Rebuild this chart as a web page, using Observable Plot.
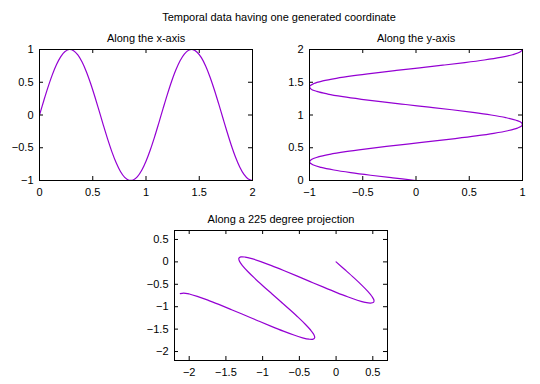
<!DOCTYPE html>
<html>
<head>
<meta charset="utf-8">
<script src="https://cdn.jsdelivr.net/npm/d3@7"></script>
<script src="https://cdn.jsdelivr.net/npm/@observablehq/plot@0.6"></script>
<style>
  html, body { margin: 0; padding: 0; background: white; }
  #chart { position: relative; width: 540px; height: 384px; }
  #chart svg { position: absolute; left: 0; top: 0; }
</style>
</head>
<body>
<div id="chart"></div>
<script>
// Time coordinate
const times = [0.00,0.04,0.08,0.12,0.16,0.20,0.24,0.28,0.32,0.36,0.40,0.44,0.48,0.52,0.56,0.60,0.64,0.68,0.72,0.76,0.80,0.84,0.88,0.92,0.96,1.00,1.04,1.08,1.12,1.16,1.20,1.24,1.28,1.32,1.36,1.40,1.44,1.48,1.52,1.56,1.60,1.64,1.68,1.72,1.76,1.80,1.84,1.88,1.92,1.96,2.00];
// Generated coordinate
const values = [0.000,0.218,0.426,0.613,0.771,0.891,0.969,1.000,0.982,0.918,0.809,0.661,0.481,0.278,0.062,-0.158,-0.369,-0.563,-0.730,-0.862,-0.952,-0.996,-0.992,-0.940,-0.843,-0.705,-0.534,-0.337,-0.123,0.097,0.312,0.512,0.687,0.829,0.931,0.988,0.998,0.959,0.875,0.748,0.585,0.394,0.184,-0.035,-0.252,-0.458,-0.641,-0.793,-0.907,-0.977,-1.000];

const mainTitle = "Temporal data having one generated coordinate";
const panelTitles = ["Along the x-axis", "Along the y-axis", "Along a 225 degree projection"];
const panelAngles = [0, 90, 225];

const xTicks = [[0, 0.5, 1, 1.5, 2], [-1, -0.5, 0, 0.5, 1], [-2, -1.5, -1, -0.5, 0, 0.5]];
const yTicks = [[-1, -0.5, 0, 0.5, 1], [0, 0.5, 1, 1.5, 2], [-2, -1.5, -1, -0.5, 0, 0.5]];
const xDomains = [[0, 2], [-1, 1], [-2.2, 0.7]];
const yDomains = [[-1, 1], [0, 2], [-2.2, 0.7]];

// frame placement (pixels) : left, right, top, bottom
const frames = [[39, 252, 49, 180], [309, 522, 49, 180], [174, 387, 230, 360]];

const W = 540, H = 384;
const FONT = "'Liberation Sans', Arial, sans-serif";
const color = "#9400d3";
const fmt = d => String(d).replace("-", "\u2212");

const chart = document.getElementById("chart");

panelAngles.forEach((ang, i) => {
  const a = ang * Math.PI / 180;
  const c = Math.cos(a), s = Math.sin(a);
  const data = times.map((t, k) => ({
    x: t * c - values[k] * s,
    y: t * s + values[k] * c
  }));
  const [l, r, tp, b] = frames[i];
  const fh = b - tp, fw = r - l;
  const svg = Plot.plot({
    width: W, height: H,
    marginLeft: l, marginRight: W - r, marginTop: tp, marginBottom: H - b,
    style: {background: "transparent", fontFamily: FONT, fontSize: "11px", color: "black"},
    x: {domain: xDomains[i]},
    y: {domain: yDomains[i]},
    marks: [
      Plot.line(data, {x: "x", y: "y", stroke: color, strokeWidth: 1.2, curve: "catmull-rom"}),
      // inward ticks on all four sides
      Plot.ruleX(xTicks[i], {x: d => d, insetTop: fh - 4, stroke: "black"}),
      Plot.ruleX(xTicks[i], {x: d => d, insetBottom: fh - 4, stroke: "black"}),
      Plot.ruleY(yTicks[i], {y: d => d, insetRight: fw - 4, stroke: "black"}),
      Plot.ruleY(yTicks[i], {y: d => d, insetLeft: fw - 4, stroke: "black"}),
      Plot.frame({stroke: "black"}),
      Plot.axisX(xTicks[i], {tickSize: 0, tickPadding: 8, tickFormat: fmt, label: null, fontSize: 11}),
      Plot.axisY(yTicks[i], {tickSize: 0, tickPadding: 6, tickFormat: fmt, label: null, fontSize: 11}),
      Plot.text([panelTitles[i]], {frameAnchor: "top", dy: -8, lineAnchor: "bottom", fontSize: 11, fill: "black"})
    ]
  });
  chart.appendChild(svg);
});

// main title
const tsvg = d3.create("svg").attr("width", W).attr("height", H)
  .style("pointer-events", "none");
tsvg.append("text")
  .attr("x", 279).attr("y", 21)
  .attr("text-anchor", "middle")
  .attr("font-family", FONT).attr("font-size", 11)
  .attr("fill", "black")
  .text(mainTitle);
chart.appendChild(tsvg.node());
</script>
</body>
</html>
